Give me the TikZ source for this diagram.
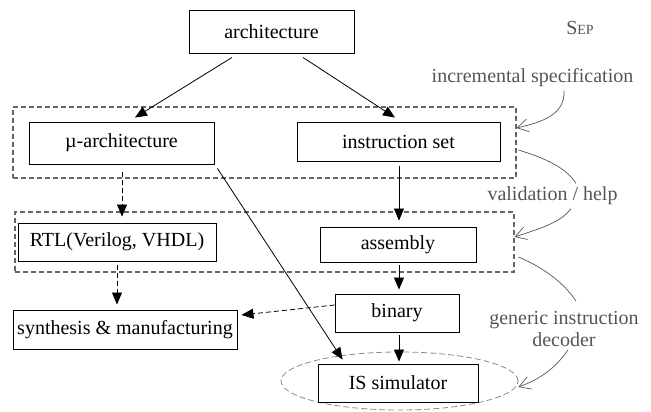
\documentclass[tikz,border=0pt]{standalone}
\usepackage{fontspec}
\setmainfont{Liberation Serif}
\usetikzlibrary{arrows.meta,shapes.geometric,calc}
\definecolor{anno}{HTML}{555555}
\definecolor{dbox}{HTML}{666666}
\definecolor{ellc}{HTML}{8A8A8A}
\begin{document}
\begin{tikzpicture}[x=1pt,y=-1pt,
  font=\fontsize{20}{22}\selectfont,
  box/.style={draw, line width=0.9pt, inner sep=0pt},
  group/.style={draw=dbox, line width=1.1pt, dash pattern=on 5pt off 3pt, inner sep=0pt},
  ellgroup/.style={ellipse, draw=ellc, line width=0.8pt, dash pattern=on 6pt off 3pt, inner sep=0pt},
  arr/.style={-{Triangle[length=12pt,width=10pt]}, line width=0.8pt},
  darr/.style={arr, dash pattern=on 5pt off 3pt},
  annot/.style={text=anno},
  aline/.style={draw=anno, line width=0.7pt},
  aarr/.style={aline, -{Straight Barb[length=11pt,width=13pt]}}]
\useasboundingbox (0,0) rectangle (651,412);
% groups
\node[group, minimum width=503pt, minimum height=71pt] (top) at (264.5,142.5) {};
\node[group, minimum width=499pt, minimum height=60pt] (bot) at (264.5,242) {};
\node[ellgroup, minimum width=237pt, minimum height=58pt] (ell) at (399.5,381) {};
% boxes
\node[box, minimum width=165pt, minimum height=43pt] (arch) at (271.5,31.5) {architecture};
\node[box, minimum width=185pt, minimum height=42pt] (mu) at (121.5,143) {µ-architecture};
\node[box, minimum width=203pt, minimum height=39pt] (is) at (398.5,141.5) {instruction set};
\node[box, minimum width=198pt, minimum height=38pt] (rtl) at (117,242) {RTL(Verilog, VHDL)};
\node[box, minimum width=156pt, minimum height=35pt] (asm) at (398,244.5) {assembly};
\node[box, minimum width=124pt, minimum height=38pt] (bin) at (397,313) {binary};
\node[box, minimum width=224pt, minimum height=39pt] (synth) at (125,329.5) {synthesis \& manufacturing};
\node[box, minimum width=160pt, minimum height=38pt] (sim) at (398,383) {IS simulator};
% annotations
\node[annot] (sep) at (580,28) {S{\fontsize{14}{14}\selectfont EP}};
\node[annot] (inc) at (532.5,78) {incremental specification};
\node[annot] (val) at (552.5,196) {validation / help};
\node[annot, align=center] (gen) at (564,328.5) {generic instruction\\decoder};
% connectors
\draw[arr] ([xshift=-39.5pt,yshift=-4pt]arch.south) -- ([xshift=13.5pt,yshift=4pt]mu.north);
\draw[arr] ([xshift=31.5pt,yshift=-4pt]arch.south) -- ([xshift=-3.5pt,yshift=4pt]is.north);
\draw[darr] ([xshift=0.5pt,yshift=-8pt]mu.south) -- ([xshift=5pt,yshift=6pt]rtl.north);
\draw[darr] ([yshift=-4pt]rtl.south) -- ([xshift=-8pt,yshift=5pt]synth.north);
\draw[arr] ([xshift=3pt,yshift=-4pt]mu.south east) -- ([xshift=25pt,yshift=4pt]sim.north west);
\draw[arr] ([xshift=0.5pt,yshift=-5pt]is.south) -- ([xshift=1pt,yshift=6pt]asm.north);
\draw[arr] ([xshift=1pt,yshift=-3pt]asm.south) -- ([xshift=2pt,yshift=4pt]bin.north);
\draw[arr] ([xshift=2pt,yshift=-3pt]bin.south) -- ([xshift=1pt,yshift=2pt]sim.north);
\draw[darr] ([yshift=8pt]bin.west) -- ([xshift=4pt,yshift=14.5pt]synth.east);
% annotation curves
\draw[aarr] ([xshift=31.5pt]inc.south) .. controls +(1,24) and +(26,-6) .. ([yshift=14.5pt]top.east);
\draw[aline] ([xshift=2pt,yshift=-7.5pt]top.east) .. controls +(26,8) and +(-10,-16) .. ([xshift=23.5pt]val.north);
\draw[aarr] ([xshift=18.5pt]val.south) .. controls +(-10,14) and +(24,-8) .. ([yshift=5pt]bot.east);
\draw[aline] ([xshift=4pt,yshift=-15pt]bot.east) .. controls +(28,12) and +(-10,-16) .. ([xshift=12pt,yshift=6pt]gen.north);
\draw[aarr] ([xshift=4pt]gen.south) .. controls +(-12,18) and +(22,-8) .. ([yshift=-6pt]ell.east);
\end{tikzpicture}
\end{document}
